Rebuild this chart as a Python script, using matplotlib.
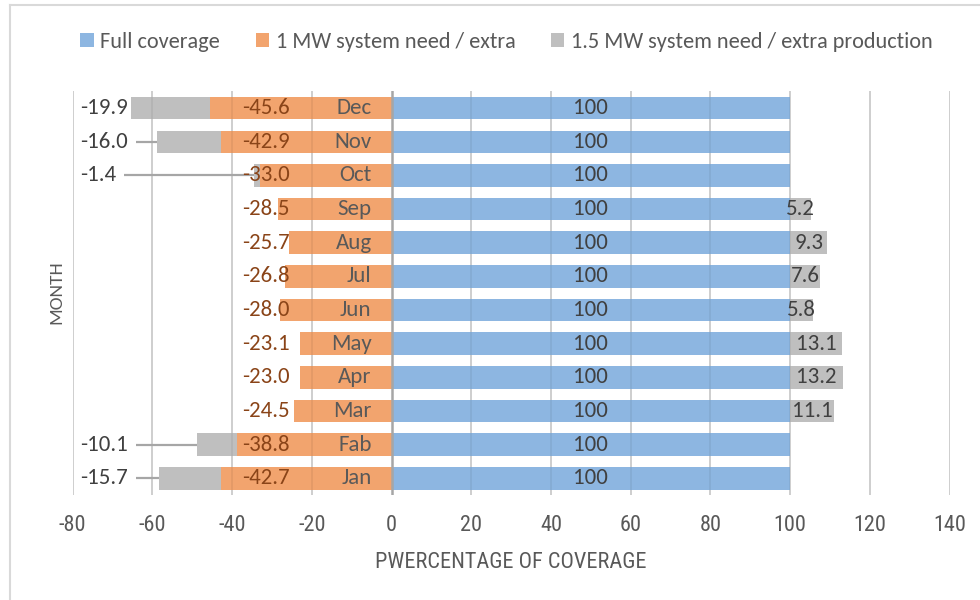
import matplotlib
matplotlib.use("Agg")
import matplotlib.pyplot as plt
from matplotlib.patches import Patch
from matplotlib import font_manager

# ---- data -------------------------------------------------------------
months = ["Jan", "Fab", "Mar", "Apr", "May", "Jun",
          "Jul", "Aug", "Sep", "Oct", "Nov", "Dec"]
full_coverage = [100, 100, 100, 100, 100, 100, 100, 100, 100, 100, 100, 100]
mw1_need = [-42.7, -38.8, -24.5, -23.0, -23.1, -28.0,
            -26.8, -25.7, -28.5, -33.0, -42.9, -45.6]
mw15_need = [-15.7, -10.1, 11.1, 13.2, 13.1, 5.8,
             7.6, 9.3, 5.2, -1.4, -16.0, -19.9]
x_ticks = [-80, -60, -40, -20, 0, 20, 40, 60, 80, 100, 120, 140]
series_names = ["Full coverage", "1 MW system need / extra",
                "1.5 MW system need / extra production"]

# ---- style ------------------------------------------------------------
installed = {f.name for f in font_manager.fontManager.ttflist}
main_font = [f for f in ["Carlito", "Lato", "Open Sans", "DejaVu Sans"] if f in installed]
narrow_font = [f for f in ["Liberation Sans Narrow", "DejaVu Sans Condensed",
                           "Roboto Condensed"] if f in installed] + main_font
plt.rcParams["font.family"] = main_font

BLUE = "#8DB6E1"
ORANGE = "#F2A46E"
GRAY = "#BFBFBF"
TXT = "#404040"
TICK = "#595959"
ORANGE_TXT = "#8A4418"
LABEL_FS = 16.5
NAME_FS = 16.5

fig = plt.figure(figsize=(9.8, 6.0), dpi=100)
ax = fig.add_axes([0.0742, 0.1747, 0.8948, 0.6731])

y = list(range(len(months)))
h = 0.67

ax.barh(y, full_coverage, height=h, color=BLUE, zorder=2)
ax.barh(y, mw1_need, height=h, color=ORANGE, zorder=2)
gray_left = [m if g < 0 else f for m, g, f in zip(mw1_need, mw15_need, full_coverage)]
ax.barh(y, mw15_need, left=gray_left, height=h, color=GRAY, zorder=2)

ax.set_xlim(-80, 140)
ax.set_ylim(-0.5, len(months) - 0.5)

# gridlines: solid behind the bars, faint overlay so they show through
for xv in x_ticks:
    if xv != 0:
        ax.axvline(xv, color="#D9D9D9", lw=1.3, zorder=1)
        ax.axvline(xv, color="#000000", alpha=0.06, lw=1.3, zorder=2.5)
ax.axvline(0, color="#A6A6A6", lw=1.8, zorder=2.6)

for s in ax.spines.values():
    s.set_visible(False)
ax.set_yticks([])
ax.set_xticks(x_ticks)
ax.set_xticklabels([str(v) for v in x_ticks], family=narrow_font,
                   fontsize=16, color=TICK)
ax.tick_params(axis="x", length=0, pad=14)

ax.set_xlabel("PWERCENTAGE OF COVERAGE", family=narrow_font,
              fontsize=16, color=TICK, labelpad=12)
fig.text(56 / 980, 0.513, "MONTH", rotation=90, ha="center", va="center",
         fontsize=14, color=TICK)

# month names next to the zero line
for yi, m in zip(y, months):
    ax.annotate(m, xy=(0, yi), xytext=(-20, 0), textcoords="offset pixels",
                ha="right", va="center", fontsize=NAME_FS, color=TICK, zorder=4)

# value labels
for yi, v in zip(y, full_coverage):
    ax.text(v / 2, yi, f"{v:g}", ha="center", va="center",
            fontsize=LABEL_FS, color=TXT, zorder=4)

for yi, v in zip(y, mw1_need):
    ax.text(-31.5, yi, f"{v:.1f}", ha="center", va="center",
            fontsize=LABEL_FS, color=ORANGE_TXT, zorder=4)

fig.canvas.draw()
renderer = fig.canvas.get_renderer()
inv = ax.transData.inverted()
for yi, g, left in zip(y, mw15_need, gray_left):
    if g >= 0:
        ax.text(left + g / 2, yi, f"{g:.1f}", ha="center", va="center",
                fontsize=LABEL_FS, color=TXT, zorder=4)
    else:
        t = ax.text(-78.2, yi, f"{g:.1f}", ha="left", va="center",
                    fontsize=LABEL_FS, color=TXT, zorder=4)
        bb = t.get_window_extent(renderer)
        x_start = inv.transform((bb.x1 + 8, 0))[0]
        bar_end = left + g
        if bar_end - x_start > 1.5:
            ax.plot([x_start, bar_end], [yi, yi], color="#A6A6A6",
                    lw=1.6, zorder=3, solid_capstyle="butt")

handles = [Patch(facecolor=c, edgecolor="none") for c in (BLUE, ORANGE, GRAY)]
leg = fig.legend(handles, series_names, loc="center", bbox_to_anchor=(0.517, 0.93),
                 ncol=3, frameon=False, fontsize=16, handlelength=0.6,
                 handleheight=0.6, handletextpad=0.3, columnspacing=1.6)
for t in leg.get_texts():
    t.set_color(TICK)

# chart area border (top and left edges)
fig.add_artist(plt.Line2D([10 / 980, 10 / 980], [0, 1 - 5 / 600],
                          transform=fig.transFigure, color="#D9D9D9", lw=1.5))
fig.add_artist(plt.Line2D([10 / 980, 1], [1 - 5 / 600, 1 - 5 / 600],
                          transform=fig.transFigure, color="#D9D9D9", lw=1.5))

fig.savefig("out.png", dpi=100, facecolor="white")
